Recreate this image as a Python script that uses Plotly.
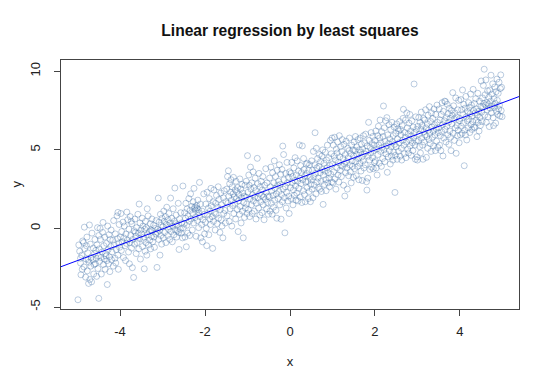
import numpy as np
import plotly.graph_objects as go

# Points, grouped by x-strips of width 0.5
strip_a = [(-4.99,-4.54),(-4.97,-1.05),(-4.95,-1.45),(-4.93,-2.2),(-4.92,-2.95),(-4.9,-1.7),(-4.88,-0.8),(-4.86,-0.9),(-4.85,-2.45),(-4.84,0.08),(-4.83,-1.3),(-4.81,-3.1),(-4.8,-1.95),(-4.78,-0.55),(-4.77,-2.7),(-4.76,-1.55),(-4.74,-3.5),(-4.73,-2.15),(-4.72,0.22),(-4.71,-3.25),(-4.7,-1.0),(-4.69,-2.4),(-4.68,-1.85),(-4.67,-3.4),(-4.66,-0.3),(-4.64,-2.0),(-4.63,-1.25),(-4.62,-2.9),(-4.6,-1.6),(-4.59,-0.7),(-4.58,-2.25),(-4.56,-1.9),(-4.55,-3.05),(-4.54,-1.05),(-4.53,0.05),(-4.52,-2.55),(-4.51,-1.75),(-4.5,-4.45),(-4.5,-0.45),(-4.93,-1.9),(-4.89,-2.6),(-4.79,-1.1),(-4.57,-1.4),(-4.61,-2.3),(-4.75,-2.0)]
strip_b = [(-4.49,-1.3),(-4.48,-2.1),(-4.47,0.0),(-4.46,-0.7),(-4.45,-1.85),(-4.44,-2.9),(-4.42,-1.5),(-4.41,-0.25),(-4.4,0.38),(-4.39,-2.3),(-4.38,-1.1),(-4.37,-1.95),(-4.36,-0.55),(-4.35,-2.6),(-4.34,-1.6),(-4.32,-0.95),(-4.31,-2.05),(-4.3,-3.57),(-4.29,0.15),(-4.28,-1.35),(-4.27,-2.25),(-4.26,-0.4),(-4.25,-1.8),(-4.24,-2.75),(-4.22,-1.15),(-4.21,-0.1),(-4.2,-2.0),(-4.19,-1.5),(-4.17,-0.75),(-4.16,-2.4),(-4.15,0.5),(-4.14,-1.05),(-4.12,-1.9),(-4.11,-0.35),(-4.1,-2.2),(-4.09,-1.35),(-4.07,0.8),(-4.06,-0.65),(-4.05,-1.7),(-4.04,-2.6),(-4.03,-0.95),(-4.02,0.25),(-4.01,-1.2),(-4.33,-1.75),(-4.23,-0.7)]
strip_c = [(-3.99,-0.55),(-3.98,0.95),(-3.97,-1.4),(-3.96,-0.2),(-3.95,-0.85),(-3.93,0.4),(-3.92,-1.85),(-3.91,-0.6),(-3.9,0.15),(-3.88,-1.1),(-3.87,-2.05),(-3.86,-0.35),(-3.84,1.04),(-3.83,-0.75),(-3.82,0.55),(-3.8,-1.5),(-3.79,-0.05),(-3.78,-2.25),(-3.77,-0.9),(-3.76,0.75),(-3.75,-0.45),(-3.73,-1.25),(-3.72,0.3),(-3.71,-2.5),(-3.7,-0.7),(-3.68,-3.12),(-3.67,-0.15),(-3.66,-1.0),(-3.65,0.6),(-3.63,-0.5),(-3.62,-1.6),(-3.61,0.05),(-3.6,-0.9),(-3.58,0.9),(-3.57,-0.3),(-3.56,-1.3),(-3.55,1.55),(-3.54,-0.65),(-3.53,0.35),(-3.52,-1.95),(-3.51,-0.1),(-3.85,-0.95),(-3.64,-0.25),(-3.74,0.45),(-4.05,1.02)]
strip_d = [(-3.49,-0.35),(-3.48,0.65),(-3.47,-1.15),(-3.46,0.15),(-3.45,-0.7),(-3.43,-2.57),(-3.42,-0.05),(-3.41,-1.45),(-3.4,0.45),(-3.39,-0.9),(-3.38,0.05),(-3.37,-1.7),(-3.36,1.25),(-3.35,-0.4),(-3.34,0.8),(-3.33,-1.05),(-3.31,-0.2),(-3.3,-0.75),(-3.29,0.3),(-3.28,-1.3),(-3.26,-0.5),(-3.25,0.6),(-3.24,-0.15),(-3.23,-0.85),(-3.21,0.2),(-3.2,-0.55),(-3.19,-1.2),(-3.17,0.0),(-3.16,-0.35),(-3.15,0.5),(-3.13,-2.48),(-3.12,-0.25),(-3.11,-0.05),(-3.1,1.93),(-3.09,-0.7),(-3.08,0.4),(-3.07,-0.15),(-3.06,-1.7),(-3.05,0.9),(-3.04,-0.45),(-3.03,0.2),(-3.02,-1.0),(-3.01,0.65),(-3.27,-0.1),(-3.44,-0.55)]
strip_e = [(-2.99,0.1),(-2.98,-0.6),(-2.97,1.1),(-2.96,0.45),(-2.95,-0.25),(-2.93,0.75),(-2.92,-0.9),(-2.91,0.25),(-2.9,1.35),(-2.88,-0.45),(-2.87,0.55),(-2.86,-0.05),(-2.85,0.95),(-2.83,-0.7),(-2.82,0.35),(-2.81,1.93),(-2.8,-0.2),(-2.78,0.65),(-2.77,-0.85),(-2.76,0.15),(-2.75,1.25),(-2.73,-0.4),(-2.72,0.45),(-2.71,2.57),(-2.7,-0.1),(-2.68,0.85),(-2.67,-0.55),(-2.66,0.2),(-2.65,-0.15),(-2.63,1.6),(-2.62,-0.25),(-2.61,-1.34),(-2.6,0.6),(-2.58,-0.05),(-2.57,1.0),(-2.56,-0.3),(-2.55,0.35),(-2.53,-0.6),(-2.52,2.7),(-2.51,0.05),(-2.69,0.3),(-2.84,0.1)]
strip_f = [(-2.49,0.3),(-2.48,1.0),(-2.47,-0.55),(-2.46,0.65),(-2.45,1.6),(-2.44,-1.17),(-2.43,0.2),(-2.42,1.25),(-2.41,-0.3),(-2.4,0.8),(-2.38,1.9),(-2.37,0.45),(-2.36,-0.45),(-2.35,1.15),(-2.34,2.2),(-2.33,0.6),(-2.31,1.4),(-2.3,-0.1),(-2.29,0.95),(-2.28,1.7),(-2.27,0.35),(-2.26,2.55),(-2.25,1.25),(-2.24,1.35),(-2.23,0.7),(-2.22,1.15),(-2.21,-0.5),(-2.2,1.45),(-2.19,1.3),(-2.18,0.5),(-2.17,1.8),(-2.16,1.2),(-2.15,0.05),(-2.14,1.0),(-2.13,2.93),(-2.12,0.75),(-2.11,1.55),(-2.1,-0.6),(-2.08,0.25),(-2.07,1.1),(-2.06,-0.85),(-2.05,0.55),(-2.03,2.2),(-2.02,0.9),(-2.01,-0.35)]
strip_g = [(-1.99,0.4),(-1.98,1.55),(-1.97,0.0),(-1.96,-1.1),(-1.95,2.3),(-1.94,0.85),(-1.92,1.3),(-1.91,-0.4),(-1.9,1.9),(-1.89,0.6),(-1.88,1.1),(-1.87,0.25),(-1.86,2.55),(-1.85,1.45),(-1.83,0.75),(-1.82,-1.27),(-1.81,1.7),(-1.8,0.45),(-1.79,2.45),(-1.78,1.0),(-1.76,-0.1),(-1.75,1.6),(-1.74,0.9),(-1.73,2.1),(-1.71,0.3),(-1.7,1.35),(-1.69,2.65),(-1.68,0.65),(-1.67,1.85),(-1.65,-0.25),(-1.64,1.2),(-1.63,2.25),(-1.62,0.55),(-1.61,1.5),(-1.6,0.15),(-1.58,-0.6),(-1.57,1.95),(-1.56,0.95),(-1.55,2.4),(-1.53,1.15),(-1.52,0.35),(-1.51,1.7)]
strip_h = [(-1.49,2.5),(-1.48,0.8),(-1.47,3.3),(-1.46,1.6),(-1.45,3.67),(-1.44,2.05),(-1.43,0.45),(-1.42,2.85),(-1.41,1.25),(-1.4,2.3),(-1.39,3.1),(-1.38,1.8),(-1.37,0.15),(-1.36,2.65),(-1.35,1.45),(-1.34,2.2),(-1.33,3.25),(-1.32,0.95),(-1.31,2.0),(-1.3,1.6),(-1.29,2.45),(-1.28,0.6),(-1.27,3.0),(-1.26,1.9),(-1.25,2.35),(-1.24,1.2),(-1.23,2.6),(-1.22,-0.2),(-1.21,1.75),(-1.2,2.15),(-1.19,0.9),(-1.18,3.15),(-1.17,1.4),(-1.16,2.5),(-1.15,0.35),(-1.14,1.95),(-1.13,2.8),(-1.12,1.1),(-1.11,2.25),(-1.1,-0.6),(-1.09,1.65),(-1.08,2.05),(-1.07,0.7),(-1.06,2.75),(-1.05,1.3),(-1.04,2.0),(-1.03,3.0),(-1.02,1.55),(-1.01,0.95)]
strip_i = [(-0.99,2.3),(-0.98,1.2),(-0.97,3.4),(-0.96,2.75),(-0.95,0.75),(-0.94,1.9),(-0.93,3.9),(-0.92,2.5),(-0.91,1.5),(-0.9,2.9),(-0.89,0.95),(-0.88,2.15),(-0.87,3.6),(-0.86,1.75),(-0.85,2.6),(-0.84,1.1),(-0.83,2.0),(-0.82,3.2),(-0.81,2.4),(-0.8,0.6),(-0.79,1.6),(-0.77,4.46),(-0.76,2.85),(-0.75,1.95),(-0.74,1.3),(-0.73,3.5),(-0.72,2.2),(-0.71,0.85),(-0.7,2.65),(-0.69,1.7),(-0.68,3.0),(-0.67,2.1),(-0.66,1.0),(-0.65,2.45),(-0.64,3.3),(-0.63,1.5),(-0.62,2.0),(-0.61,0.55),(-0.6,2.75),(-0.58,1.85),(-0.57,3.8),(-0.56,2.3),(-0.55,1.25),(-0.54,2.9),(-0.53,1.65),(-0.52,2.05),(-0.51,0.9),(-1.0,4.63)]
strip_j = [(-0.49,2.0),(-0.48,3.2),(-0.47,1.1),(-0.46,2.65),(-0.45,3.9),(-0.44,1.6),(-0.43,2.4),(-0.42,0.9),(-0.41,3.55),(-0.4,2.1),(-0.39,1.35),(-0.38,2.9),(-0.37,4.3),(-0.36,1.8),(-0.35,2.55),(-0.34,3.3),(-0.33,1.15),(-0.32,2.2),(-0.31,0.65),(-0.3,3.7),(-0.29,2.75),(-0.28,1.9),(-0.27,3.0),(-0.26,2.35),(-0.25,4.05),(-0.24,1.5),(-0.23,2.8),(-0.22,3.45),(-0.21,0.59),(-0.2,2.15),(-0.19,3.75),(-0.18,1.7),(-0.17,5.24),(-0.16,2.5),(-0.15,4.7),(-0.14,3.1),(-0.13,1.95),(-0.12,-0.28),(-0.11,2.65),(-0.1,3.5),(-0.09,1.3),(-0.08,2.3),(-0.07,4.2),(-0.06,2.9),(-0.05,1.75),(-0.04,3.25),(-0.03,2.05),(-0.02,0.95),(-0.01,3.6)]
strip_k = [(0.01,2.6),(0.02,3.5),(0.03,1.9),(0.04,4.2),(0.05,2.9),(0.06,3.3),(0.07,1.5),(0.08,2.45),(0.09,3.85),(0.1,2.1),(0.11,3.05),(0.12,4.5),(0.13,2.7),(0.14,1.8),(0.15,3.4),(0.16,2.25),(0.17,4.3),(0.18,3.0),(0.19,1.75),(0.2,3.65),(0.21,2.55),(0.22,5.31),(0.23,3.2),(0.24,2.0),(0.25,4.0),(0.26,2.85),(0.27,3.55),(0.28,1.65),(0.29,5.25),(0.3,3.1),(0.31,2.4),(0.32,4.45),(0.33,3.75),(0.34,2.15),(0.35,3.35),(0.36,1.7),(0.37,2.95),(0.38,4.1),(0.39,3.5),(0.4,2.6),(0.41,4.15),(0.42,3.0),(0.43,1.9),(0.44,3.7),(0.45,2.35),(0.46,4.05),(0.47,3.25),(0.48,1.7),(0.49,2.8)]
strip_l = [(0.5,3.1),(0.51,4.3),(0.52,2.5),(0.53,3.7),(0.54,1.95),(0.55,4.9),(0.56,3.3),(0.57,2.75),(0.58,4.05),(0.59,6.09),(0.6,3.5),(0.61,2.2),(0.62,5.1),(0.63,3.85),(0.64,2.95),(0.65,4.45),(0.66,3.2),(0.67,2.6),(0.68,3.95),(0.69,4.7),(0.7,2.5),(0.71,3.55),(0.72,4.25),(0.73,3.0),(0.74,2.35),(0.75,4.6),(0.76,3.75),(0.77,5.0),(0.78,1.53),(0.79,3.4),(0.8,4.15),(0.81,2.8),(0.82,3.65),(0.83,4.85),(0.84,3.1),(0.85,2.4),(0.86,4.35),(0.87,3.85),(0.88,5.3),(0.89,2.9),(0.9,3.55),(0.91,4.5),(0.92,3.2),(0.93,2.65),(0.94,4.0),(0.95,5.6),(0.96,3.45),(0.97,4.75),(0.98,2.95),(0.99,5.75)]
strip_m = [(1.0,4.1),(1.01,2.9),(1.02,5.3),(1.03,3.6),(1.04,4.6),(1.05,5.8),(1.06,3.15),(1.07,4.35),(1.08,2.5),(1.09,5.05),(1.1,3.85),(1.11,4.8),(1.12,5.5),(1.13,3.4),(1.14,4.2),(1.15,2.95),(1.16,5.9),(1.17,4.55),(1.18,3.7),(1.19,5.2),(1.2,4.0),(1.21,3.3),(1.22,4.9),(1.23,5.65),(1.24,3.95),(1.25,4.45),(1.26,2.75),(1.27,5.35),(1.28,4.1),(1.29,2.06),(1.3,4.7),(1.31,3.55),(1.32,5.55),(1.33,4.25),(1.34,3.85),(1.35,2.5),(1.36,5.1),(1.37,4.5),(1.38,3.35),(1.39,4.95),(1.4,5.75),(1.41,4.05),(1.42,3.6),(1.43,4.75),(1.44,2.9),(1.45,5.3),(1.46,4.3),(1.47,3.95),(1.48,5.0),(1.49,3.25)]
strip_n = [(1.5,4.6),(1.51,5.5),(1.52,3.8),(1.53,4.95),(1.54,5.85),(1.55,4.25),(1.56,3.35),(1.57,5.2),(1.58,4.7),(1.59,3.95),(1.6,5.65),(1.61,4.45),(1.62,3.1),(1.63,5.0),(1.64,4.15),(1.65,5.75),(1.66,4.85),(1.67,3.65),(1.68,5.35),(1.69,4.55),(1.7,3.05),(1.71,5.05),(1.72,4.3),(1.73,5.9),(1.74,3.85),(1.75,4.75),(1.76,5.45),(1.77,4.05),(1.78,6.0),(1.79,4.9),(1.8,2.97),(1.81,2.44),(1.82,5.25),(1.83,3.2),(1.84,4.6),(1.85,6.75),(1.86,5.6),(1.87,4.35),(1.88,3.75),(1.89,5.15),(1.9,4.8),(1.91,6.1),(1.92,3.9),(1.93,5.4),(1.94,4.5),(1.95,5.85),(1.96,3.8),(1.97,4.95),(1.98,5.3),(1.99,4.2)]
strip_o = [(2.0,5.6),(2.01,4.3),(2.02,6.2),(2.03,3.85),(2.04,5.05),(2.05,3.4),(2.06,5.9),(2.07,4.7),(2.08,6.5),(2.09,5.3),(2.1,4.15),(2.11,5.75),(2.12,6.9),(2.13,4.9),(2.14,5.45),(2.15,3.95),(2.16,6.15),(2.17,5.15),(2.18,4.45),(2.19,5.85),(2.2,7.79),(2.21,5.0),(2.22,6.4),(2.23,4.25),(2.24,5.55),(2.25,6.85),(2.26,4.75),(2.27,5.25),(2.28,7.05),(2.29,3.57),(2.3,5.95),(2.31,4.55),(2.32,5.4),(2.33,6.6),(2.34,4.95),(2.35,5.7),(2.36,4.1),(2.37,6.3),(2.38,5.2),(2.39,4.6),(2.4,6.75),(2.41,5.5),(2.42,4.35),(2.43,5.9),(2.44,4.85),(2.45,6.45),(2.46,5.35),(2.47,2.29),(2.48,4.65),(2.49,6.05)]
strip_p = [(2.5,5.2),(2.51,6.65),(2.52,4.4),(2.53,5.7),(2.54,6.35),(2.55,4.9),(2.56,6.2),(2.57,5.45),(2.58,6.8),(2.59,4.6),(2.6,6.3),(2.61,5.95),(2.62,5.1),(2.63,4.35),(2.64,6.55),(2.65,5.6),(2.66,7.0),(2.67,7.58),(2.68,5.3),(2.69,4.75),(2.7,6.1),(2.71,5.8),(2.72,6.9),(2.73,4.5),(2.74,5.5),(2.75,7.35),(2.76,6.4),(2.77,5.05),(2.78,6.0),(2.79,4.8),(2.8,6.7),(2.81,5.65),(2.82,7.25),(2.83,5.25),(2.84,6.2),(2.85,4.65),(2.86,5.9),(2.87,6.85),(2.88,5.45),(2.89,4.95),(2.9,6.45),(2.91,5.75),(2.92,9.19),(2.93,6.1),(2.94,5.3),(2.95,4.4),(2.96,7.1),(2.97,5.55),(2.98,6.3),(2.99,4.55)]
strip_q = [(3.0,4.35),(3.01,6.5),(3.02,5.6),(3.03,7.05),(3.04,6.0),(3.05,5.2),(3.06,6.75),(3.07,4.8),(3.08,6.3),(3.09,7.4),(3.1,5.75),(3.11,6.55),(3.12,5.3),(3.13,4.4),(3.14,7.0),(3.15,6.15),(3.16,5.5),(3.17,6.9),(3.18,5.95),(3.19,7.55),(3.2,6.4),(3.21,4.52),(3.22,5.85),(3.23,6.65),(3.24,5.1),(3.25,7.2),(3.26,6.25),(3.27,5.65),(3.28,7.75),(3.29,6.05),(3.3,5.4),(3.31,6.8),(3.32,4.9),(3.33,7.35),(3.34,6.45),(3.35,5.8),(3.36,7.0),(3.37,6.2),(3.38,5.25),(3.39,7.6),(3.4,6.6),(3.41,5.95),(3.42,4.95),(3.43,7.25),(3.44,6.35),(3.45,5.55),(3.46,7.85),(3.47,6.75),(3.48,5.15),(3.49,6.1)]
strip_r = [(3.5,6.4),(3.51,7.6),(3.52,5.3),(3.53,6.9),(3.54,5.9),(3.55,4.95),(3.56,7.25),(3.57,6.15),(3.58,8.0),(3.59,6.6),(3.6,4.61),(3.61,7.45),(3.62,5.75),(3.63,6.85),(3.64,8.1),(3.65,6.3),(3.66,8.07),(3.67,5.5),(3.68,7.05),(3.69,6.5),(3.7,7.9),(3.71,5.95),(3.72,7.3),(3.73,6.75),(3.74,5.35),(3.75,7.65),(3.76,6.2),(3.77,7.0),(3.78,5.8),(3.79,4.95),(3.8,7.5),(3.81,6.65),(3.82,7.2),(3.83,8.64),(3.84,6.05),(3.85,7.8),(3.86,6.95),(3.87,5.6),(3.88,7.35),(3.89,6.4),(3.9,8.3),(3.91,4.78),(3.92,7.1),(3.93,6.55),(3.94,5.9),(3.95,7.55),(3.96,6.25),(3.97,8.15),(3.98,5.45),(3.99,6.85)]
strip_s = [(4.0,7.0),(4.01,5.95),(4.02,8.2),(4.03,6.5),(4.04,7.55),(4.05,6.05),(4.06,8.81),(4.07,7.25),(4.08,6.7),(4.09,7.9),(4.1,3.99),(4.11,6.25),(4.12,7.65),(4.13,5.95),(4.14,8.4),(4.15,7.1),(4.16,5.63),(4.17,6.85),(4.18,7.45),(4.19,6.4),(4.2,8.0),(4.21,6.95),(4.22,7.7),(4.23,6.1),(4.24,7.3),(4.25,8.55),(4.26,6.6),(4.27,7.85),(4.28,6.3),(4.29,7.15),(4.3,6.8),(4.31,8.85),(4.32,7.5),(4.33,6.45),(4.34,7.95),(4.35,6.4),(4.36,7.35),(4.37,8.25),(4.38,6.9),(4.39,7.6),(4.4,5.84),(4.41,7.2),(4.42,8.6),(4.43,6.75),(4.44,7.45),(4.45,6.2),(4.46,8.1),(4.47,7.05),(4.48,6.55),(4.49,7.75)]
strip_t = [(4.5,9.38),(4.51,7.4),(4.52,6.8),(4.53,8.3),(4.54,7.75),(4.55,9.1),(4.56,7.95),(4.57,10.13),(4.58,7.2),(4.59,8.5),(4.6,7.85),(4.61,9.45),(4.62,6.75),(4.63,8.0),(4.64,7.55),(4.65,8.75),(4.66,7.1),(4.67,7.9),(4.68,8.35),(4.69,6.48),(4.7,8.8),(4.71,7.65),(4.72,8.1),(4.73,9.75),(4.74,7.35),(4.75,8.55),(4.76,7.8),(4.77,9.2),(4.78,7.05),(4.79,6.54),(4.8,8.25),(4.81,7.7),(4.82,9.0),(4.83,7.95),(4.84,6.7),(4.85,8.7),(4.86,7.45),(4.87,9.5),(4.88,8.15),(4.89,7.25),(4.9,8.6),(4.91,7.6),(4.92,9.3),(4.93,7.85),(4.94,7.15),(4.95,8.9),(4.96,9.77),(4.97,7.5),(4.98,8.98),(4.99,7.11)]

strips = [strip_a, strip_b, strip_c, strip_d, strip_e, strip_f, strip_g, strip_h, strip_i, strip_j,
          strip_k, strip_l, strip_m, strip_n, strip_o, strip_p, strip_q, strip_r, strip_s, strip_t]

x_ticks = [-4, -2, 0, 2, 4]
y_ticks = [-5, 0, 5, 10]

pts = [p for s in strips for p in s]
x = np.array([p[0] for p in pts])
y = np.array([p[1] for p in pts])

# least squares fit
slope, intercept = np.polyfit(x, y, 1)

def ext(a):
    lo, hi = a.min(), a.max()
    d = (hi - lo) * 0.04
    return [lo - d, hi + d]

xr = ext(x)
yr = ext(y)
line_x = np.array(xr)
line_y = intercept + slope * line_x

font_family = "Liberation Sans, Arial, sans-serif"
W, H = 550, 384
PAGE_OFF = 8  # default page margin of the html body
PLOT_LEFT = 61

fig = go.Figure()
fig.add_trace(go.Scatter(
    x=x, y=y, mode="markers",
    marker=dict(symbol="circle-open", size=6,
                color="rgba(50,100,160,0.33)",
                line=dict(width=1, color="rgba(50,100,160,0.33)")),
    hoverinfo="skip", showlegend=False))
fig.add_trace(go.Scatter(
    x=line_x, y=line_y, mode="lines",
    line=dict(color="rgb(0,0,255)", width=1),
    hoverinfo="skip", showlegend=False))

axis_common = dict(
    showgrid=False, zeroline=False, showline=True, mirror=True,
    linecolor="#444444", linewidth=1, ticks="outside", ticklen=6,
    tickcolor="#444444", tickwidth=1,
    tickfont=dict(family=font_family, size=13, color="#222222"),
)

fig.update_layout(
    width=W, height=H,
    margin=dict(l=PLOT_LEFT - PAGE_OFF, r=31 + PAGE_OFF, t=60 - PAGE_OFF, b=75 + PAGE_OFF,
                autoexpand=False),
    paper_bgcolor="white", plot_bgcolor="white",
    title=dict(text="<b>Linear regression by least squares</b>",
               x=0.5, xref="paper", xanchor="center",
               y=1 - (31 - PAGE_OFF) / H, yref="container", yanchor="middle",
               font=dict(family=font_family, size=15.6, color="#111111")),
    xaxis=dict(range=xr, tickvals=x_ticks, ticktext=[str(v) for v in x_ticks],
               ticklabelstandoff=4,
               title=dict(text="x", standoff=19,
                          font=dict(family=font_family, size=13, color="#222222")),
               **axis_common),
    yaxis=dict(range=yr, tickvals=y_ticks, ticktext=[str(v) for v in y_ticks],
               tickangle=-90, ticklabelstandoff=9,
               **axis_common),
    annotations=[dict(text="y", textangle=-90, showarrow=False, borderpad=0,
                      xref="paper", yref="paper", x=0, y=0.5,
                      xanchor="center", yanchor="middle",
                      xshift=-(PLOT_LEFT - 16),
                      font=dict(family=font_family, size=13, color="#222222"))],
)

fig.write_html("out.html")
